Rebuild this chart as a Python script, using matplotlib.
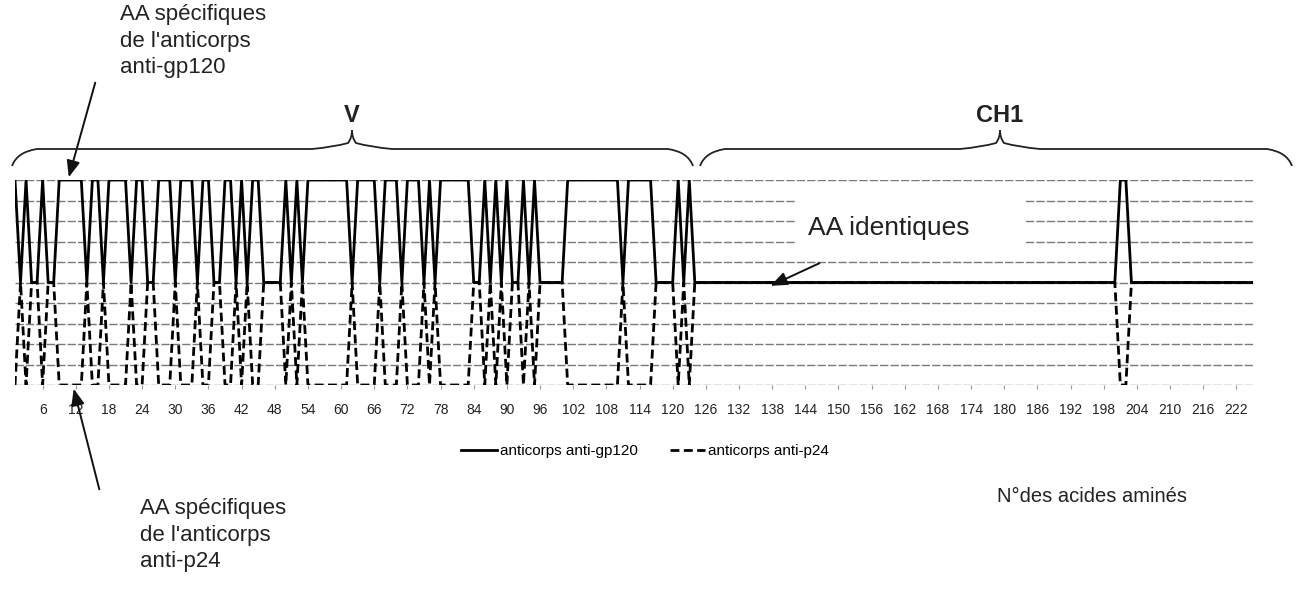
import numpy as np
import matplotlib
matplotlib.use("Agg")
import matplotlib.pyplot as plt
from matplotlib.path import Path
from matplotlib.patches import PathPatch, Rectangle
from matplotlib.lines import Line2D

# ---------------- data ----------------
n_positions = 225
positions = np.arange(1, n_positions + 1)
# runs of positions where both antibodies have identical amino acids
identical_runs = [(2, 2), (4, 5), (7, 8), (14, 14), (17, 17), (22, 22), (25, 26),
                  (30, 30), (34, 34), (37, 38), (41, 41), (43, 43), (46, 49),
                  (51, 51), (53, 53), (62, 62), (67, 67), (71, 71), (75, 75),
                  (77, 77), (84, 85), (87, 87), (89, 89), (91, 92), (94, 94),
                  (96, 100), (111, 111), (117, 120), (122, 122), (124, 200),
                  (203, 225)]
level_gp120_specific = 10
level_identical = 5
level_p24_specific = 0
tick_positions = list(range(6, 223, 6))
tick_labels = [str(t) for t in tick_positions]
series_labels = ["anticorps anti-gp120", "anticorps anti-p24"]

identical = np.zeros(n_positions, dtype=bool)
for a, b in identical_runs:
    identical[a - 1:b] = True
gp120 = np.where(identical, level_identical, level_gp120_specific)
p24 = np.where(identical, level_identical, level_p24_specific)

# ---------------- figure ----------------
W, H = 1299, 589
fig = plt.figure(figsize=(W / 100, H / 100), dpi=100)
fig.patch.set_facecolor("white")

def fx(px):
    return px / W

def fy(py):
    return 1 - py / H

x_left, x_right = 15, 1253
y_top, y_bot = 180, 385
ax = fig.add_axes([fx(x_left), fy(y_bot), (x_right - x_left) / W, (y_bot - y_top) / H])
ax.set_xlim(1, n_positions)
ax.set_ylim(0, 10)
for s in ax.spines.values():
    s.set_visible(False)

NARROW = ["Liberation Sans Narrow", "Liberation Sans", "DejaVu Sans"]
SANS = ["Liberation Sans", "DejaVu Sans"]

# gridlines
ax.set_yticks(range(0, 11))
ax.set_yticklabels([])
ax.tick_params(axis="y", length=0)
ax.yaxis.grid(True, color="#7a7a7a", lw=1.0, ls=(0, (6, 1.5)), zorder=0)
ax.set_axisbelow(True)

# white box behind "AA identiques" interrupting some gridlines
ax.add_patch(Rectangle((142.5, 6.6), 41, 3.0, facecolor="white", edgecolor="none", zorder=1))

# series
ax.plot(positions, p24, color="black", lw=2.0, ls=(0, (3.2, 1.6)), zorder=3)
ax.plot(positions, gp120, color="black", lw=2.0, zorder=4)

ax.set_xticks(tick_positions)
ax.set_xticklabels(tick_labels, fontsize=10, family=NARROW, color="#222222")
ax.tick_params(axis="x", length=3, color="#999999", pad=10)

# legend
handles = [Line2D([], [], color="black", lw=2.0),
           Line2D([], [], color="black", lw=2.0, ls=(0, (3.2, 1.6)))]
fig.legend(handles, series_labels, loc="center", bbox_to_anchor=(fx(645), fy(451)),
           ncol=2, frameon=False, handlelength=2.35, handletextpad=0.15,
           columnspacing=2.1, prop={"family": NARROW, "size": 11})

# axis title
fig.text(fx(1092), fy(497), "N°des acides aminés", ha="center", va="center",
         fontsize=14.5, family=SANS, color="#222222")

# braces
def brace(x0, x1, xc, y_end, y_mid, y_peak, lw=1.3):
    codes = [Path.MOVETO, Path.CURVE3, Path.CURVE3, Path.LINETO,
             Path.LINETO, Path.LINETO, Path.CURVE3, Path.CURVE3, Path.CURVE3, Path.CURVE3]
    lpts = [(x0, y_end), (x0 + 5, y_mid + 3), (x0 + 25, y_mid), (x0 + 60, y_mid),
            (xc - 40, y_mid), (xc - 40, y_mid), (xc - 18, y_mid - 2),
            (xc - 4, y_mid - 6), (xc, y_peak + 8), (xc, y_peak)]
    rpts = [(x1, y_end), (x1 - 5, y_mid + 3), (x1 - 25, y_mid), (x1 - 60, y_mid),
            (xc + 40, y_mid), (xc + 40, y_mid), (xc + 18, y_mid - 2),
            (xc + 4, y_mid - 6), (xc, y_peak + 8), (xc, y_peak)]
    for pts in (lpts, rpts):
        verts = [(fx(x), fy(y)) for x, y in pts]
        fig.add_artist(PathPatch(Path(verts, codes), fill=False, lw=lw,
                                 edgecolor="#222222", transform=fig.transFigure))

brace(12, 693, 352, 166, 149, 130)
brace(700, 1292, 1000, 166, 149, 130)
fig.text(fx(352), fy(115), "V", ha="center", va="center", fontsize=17,
         fontweight="bold", family=SANS, color="#222222")
fig.text(fx(1000), fy(115), "CH1", ha="center", va="center", fontsize=17,
         fontweight="bold", family=SANS, color="#222222")

# annotations
fig.text(fx(120), fy(4), "AA spécifiques\nde l'anticorps\nanti-gp120", ha="left", va="top",
         fontsize=16, family=SANS, color="#222222", linespacing=1.35)
fig.text(fx(140), fy(498), "AA spécifiques\nde l'anticorps\nanti-p24", ha="left", va="top",
         fontsize=16, family=SANS, color="#222222", linespacing=1.35)
fig.text(fx(808), fy(228), "AA identiques", ha="left", va="center",
         fontsize=19, family=SANS, color="#222222")

arrow_kw = dict(arrowstyle="-|>,head_length=1.0,head_width=0.4", color="#111111", lw=1.4)
ax_ann = fig.add_axes([0, 0, 1, 1], facecolor="none")
ax_ann.set_xlim(0, W)
ax_ann.set_ylim(H, 0)
ax_ann.axis("off")
ax_ann.annotate("", xy=(68, 180), xytext=(96, 80), arrowprops=arrow_kw)
ax_ann.annotate("", xy=(73, 386), xytext=(100, 492), arrowprops=arrow_kw)
ax_ann.annotate("", xy=(768, 287), xytext=(822, 262), arrowprops=arrow_kw)

fig.savefig("out.png", dpi=100, facecolor="white")
